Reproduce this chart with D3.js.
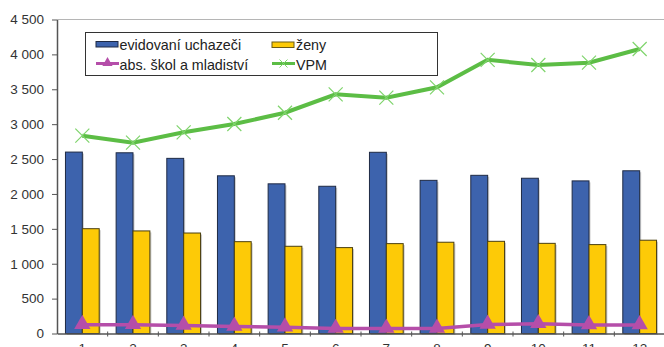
<!DOCTYPE html>
<html><head><meta charset="utf-8">
<script src="https://cdn.jsdelivr.net/npm/d3@7"></script>
<style>body{margin:0;background:#fff}svg{display:block;font-family:"Liberation Sans",Arial,sans-serif}</style>
</head><body><svg id="c" width="664" height="347"></svg>
<script>
const categories = ["1","2","3","4","5","6","7","8","9","10","11","12"];
const evidovani = [2600,2590,2510,2260,2145,2110,2597,2195,2267,2225,2187,2332];
const zeny = [1502,1470,1440,1316,1250,1231,1288,1308,1321,1292,1274,1337];
const absSkol = [125,125,115,100,90,70,72,72,130,138,122,122];
const vpm = [2835,2735,2883,3002,3164,3427,3380,3528,3922,3848,3881,4077];
const yTicks = [0,500,1000,1500,2000,2500,3000,3500,4000,4500];
const legendLabels = ["evidovaní uchazeči","ženy","abs. škol a mladiství","VPM"];

const svg = d3.select("#c");
const L = 57, R = 665, T = 19.5, B = 333.5;
const x = d3.scaleBand().domain(categories).range([L, R]).paddingInner(0).paddingOuter(0);
const y = d3.scaleLinear().domain([0, 4500]).range([B, T]);
const bw = x.bandwidth() * 0.333;
const fmt = v => d3.format(",")(v).replace(/,/g, " ");
const FF = "Liberation Sans, Arial, sans-serif";

// top border
svg.append("line").attr("x1", L).attr("x2", R).attr("y1", T).attr("y2", T).attr("stroke", "#b5b5b5").attr("stroke-width", 1);

// bars
const cx = c => x(c) + x.bandwidth() / 2;
const g = svg.append("g");
[[evidovani, "#3d63ad", "#1f2a44", -1], [zeny, "#fdca07", "#4a3f10", 0]].forEach(([vals, fill, stroke, off]) => {
  g.selectAll(null).data(categories).enter().append("rect")
    .attr("x", c => cx(c) + off * bw + 1.5).attr("y", (c, i) => y(vals[i]) + 1.5)
    .attr("width", bw).attr("height", (c, i) => B - y(vals[i]))
    .attr("fill", "#9a9a9a").attr("opacity", 0.5);
  g.selectAll(null).data(categories).enter().append("rect")
    .attr("x", c => cx(c) + off * bw).attr("y", (c, i) => y(vals[i]))
    .attr("width", bw).attr("height", (c, i) => B - y(vals[i]))
    .attr("fill", fill).attr("stroke", stroke).attr("stroke-width", 1);
});

// axes
const yAxis = d3.axisLeft(y).tickValues(yTicks).tickFormat(fmt).tickSizeInner(5).tickSizeOuter(0).tickPadding(8);
const ya = svg.append("g").attr("transform", `translate(${L},0)`).call(yAxis);
ya.select(".domain").attr("stroke", "#555").attr("stroke-width", 1.5);
ya.selectAll(".tick line").attr("stroke", "#555");
ya.selectAll("text").attr("fill", "#333").attr("font-size", 13.5).attr("font-family", FF);

const xa = svg.append("g").attr("transform", `translate(0,${B})`).call(d3.axisBottom(x).tickSize(0).tickPadding(10));
xa.select(".domain").attr("stroke", "#555").attr("stroke-width", 1.5);
xa.selectAll("text").attr("fill", "#333").attr("font-size", 13.5).attr("font-family", FF);
svg.append("g").selectAll(null).data(categories.slice(1)).enter().append("line")
  .attr("x1", c => x(c)).attr("x2", c => x(c)).attr("y1", B - 2).attr("y2", B + 3)
  .attr("stroke", "#555").attr("stroke-width", 1);

// lines
const line = vals => d3.line().x((d, i) => cx(categories[i])).y(d => y(d))(vals);
const pink = "#b54ea9", green = "#5cbd45", greenMk = "#7fd46c";
svg.append("path").attr("d", line(absSkol)).attr("fill", "none").attr("stroke", pink).attr("stroke-width", 3.5);
svg.append("path").attr("d", line(vpm)).attr("fill", "none").attr("stroke", green).attr("stroke-width", 4);
const tri = d3.symbol().type(d3.symbolTriangle).size(115);
svg.selectAll(null).data(absSkol).enter().append("path")
  .attr("d", tri).attr("transform", (d, i) => `translate(${cx(categories[i])},${y(d) - 0.5})`).attr("fill", pink);
const xm = (px, py, s) => `M${px - s},${py - s}L${px + s},${py + s}M${px - s},${py + s}L${px + s},${py - s}`;
svg.selectAll(null).data(vpm).enter().append("path")
  .attr("d", (d, i) => xm(cx(categories[i]), y(d), 7)).attr("stroke", greenMk).attr("stroke-width", 1.2).attr("fill", "none");

// legend
const lg = svg.append("g");
lg.append("rect").attr("x", 85.5).attr("y", 32.5).attr("width", 352).attr("height", 43).attr("fill", "#fff").attr("stroke", "#333").attr("stroke-width", 1);
const rows = [44.5, 65];
const cols = [96, 272];
const tcol = [119.5, 296];
lg.append("rect").attr("x", cols[0]).attr("y", 41.5).attr("width", 22).attr("height", 5.5).attr("fill", "#3d63ad").attr("stroke", "#1f2a44");
lg.append("rect").attr("x", cols[1]).attr("y", 42).attr("width", 22).attr("height", 5.5).attr("fill", "#fdca07").attr("stroke", "#6b5a14");
lg.append("line").attr("x1", cols[0]).attr("x2", cols[0] + 23).attr("y1", rows[1] - 1.5).attr("y2", rows[1] - 1.5).attr("stroke", pink).attr("stroke-width", 3);
lg.append("path").attr("d", d3.symbol().type(d3.symbolTriangle).size(45)).attr("transform", `translate(${cols[0] + 11.5},${rows[1] - 2})`).attr("fill", pink);
lg.append("line").attr("x1", cols[1]).attr("x2", cols[1] + 23).attr("y1", rows[1] - 1.5).attr("y2", rows[1] - 1.5).attr("stroke", green).attr("stroke-width", 3);
lg.append("path").attr("d", xm(cols[1] + 11.5, rows[1] - 1.5, 4)).attr("stroke", greenMk).attr("stroke-width", 1).attr("fill", "none");
[[0, 0], [1, 0], [0, 1], [1, 1]].forEach(([c, r]) => {
  lg.append("text").attr("x", tcol[c]).attr("y", rows[r]).attr("dy", "0.35em")
    .attr("font-size", 14.3).attr("font-family", FF).attr("fill", "#222").text(legendLabels[c + r * 2]);
});
</script></body></html>
